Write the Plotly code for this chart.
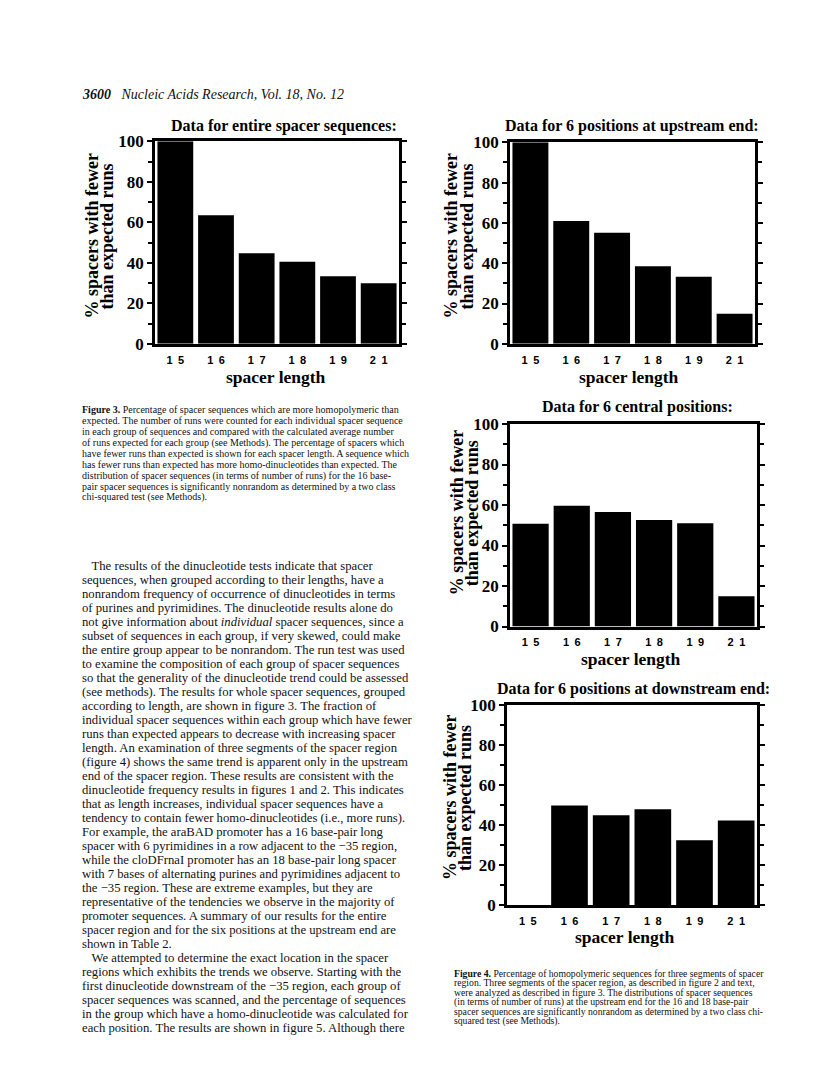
import plotly.graph_objects as go

W, H = 816, 1080
SERIF = "Liberation Serif, Times New Roman, serif"
SANS = "Liberation Sans, Arial, sans-serif"

# data
LENGTHS = ["15", "16", "17", "18", "19", "21"]
LENGTH_LABELS = ["1\u20025", "1\u20026", "1\u20027", "1\u20028", "1\u20029", "2\u20021"]
ENTIRE = [100, 63.5, 44.7, 40.5, 33.4, 29.9]
UPSTREAM = [100, 61.0, 55.1, 38.5, 33.3, 14.9]
CENTRAL = [50.7, 59.6, 56.6, 52.6, 51.0, 15.0]
DOWNSTREAM = [0, 49.7, 44.9, 47.9, 32.4, 42.2]

TITLES = [
    "Data for entire spacer sequences:",
    "Data for 6 positions at upstream end:",
    "Data for 6 central positions:",
    "Data for 6 positions at downstream end:",
]
Y_TITLE_LINES = ["% spacers with fewer", "than expected runs"]
X_TITLE = "spacer length"

HEADER = "<b><i>3600</i></b>\u00a0\u00a0\u00a0<i>Nucleic Acids Research, Vol. 18, No. 12</i>"

FIG3_CAPTION = [
    "<b>Figure 3.</b> Percentage of spacer sequences which are more homopolymeric than",
    "expected. The number of runs were counted for each individual spacer sequence",
    "in each group of sequences and compared with the calculated average number",
    "of runs expected for each group (see Methods). The percentage of spacers which",
    "have fewer runs than expected is shown for each spacer length. A sequence which",
    "has fewer runs than expected has more homo-dinucleotides than expected. The",
    "distribution of spacer sequences (in terms of number of runs) for the 16 base-",
    "pair spacer sequences is significantly nonrandom as determined by a two class",
    "chi-squared test (see Methods).",
]

BODY = [
    "\u00a0\u00a0\u00a0The results of the dinucleotide tests indicate that spacer",
    "sequences, when grouped according to their lengths, have a",
    "nonrandom frequency of occurrence of dinucleotides in terms",
    "of purines and pyrimidines. The dinucleotide results alone do",
    "not give information about <i>individual</i> spacer sequences, since a",
    "subset of sequences in each group, if very skewed, could make",
    "the entire group appear to be nonrandom. The run test was used",
    "to examine the composition of each group of spacer sequences",
    "so that the generality of the dinucleotide trend could be assessed",
    "(see methods). The results for whole spacer sequences, grouped",
    "according to length, are shown in figure 3. The fraction of",
    "individual spacer sequences within each group which have fewer",
    "runs than expected appears to decrease with increasing spacer",
    "length. An examination of three segments of the spacer region",
    "(figure 4) shows the same trend is apparent only in the upstream",
    "end of the spacer region. These results are consistent with the",
    "dinucleotide frequency results in figures 1 and 2. This indicates",
    "that as length increases, individual spacer sequences have a",
    "tendency to contain fewer homo-dinucleotides (i.e., more runs).",
    "For example, the araBAD promoter has a 16 base-pair long",
    "spacer with 6 pyrimidines in a row adjacent to the \u221235 region,",
    "while the cloDFrnaI promoter has an 18 base-pair long spacer",
    "with 7 bases of alternating purines and pyrimidines adjacent to",
    "the \u221235 region. These are extreme examples, but they are",
    "representative of the tendencies we observe in the majority of",
    "promoter sequences. A summary of our results for the entire",
    "spacer region and for the six positions at the upstream end are",
    "shown in Table 2.",
    "\u00a0\u00a0\u00a0We attempted to determine the exact location in the spacer",
    "regions which exhibits the trends we observe. Starting with the",
    "first dinucleotide downstream of the \u221235 region, each group of",
    "spacer sequences was scanned, and the percentage of sequences",
    "in the group which have a homo-dinucleotide was calculated for",
    "each position. The results are shown in figure 5. Although there",
]

FIG4_CAPTION = [
    "<b>Figure 4.</b> Percentage of homopolymeric sequences for three segments of spacer",
    "region. Three segments of the spacer region, as described in figure 2 and text,",
    "were analyzed as described in figure 3. The distributions of spacer sequences",
    "(in terms of number of runs) at the upstream end for the 16 and 18 base-pair",
    "spacer sequences are significantly nonrandom as determined by a two class chi-",
    "squared test (see Methods).",
]

# the photographed page comes out slightly squeezed vertically; undo it
Y_SHIFT, Y_SCALE = 10.0, 0.98


def fx(x):
    return x / W


def fy(y):
    return 1 - ((y - Y_SHIFT) / Y_SCALE) / H


# plot boxes in page pixels: (left, top, right, bottom), plus label anchors
PANELS = [
    dict(box=(155, 142, 399, 344), title=(284, 127), ytitle=(92, 107, 237), xtitle=(276, 377), values=ENTIRE),
    dict(box=(510, 143, 755, 344), title=(632, 127), ytitle=(451, 467, 237), xtitle=(629, 377), values=UPSTREAM),
    dict(box=(510, 424, 757, 626), title=(637, 407), ytitle=(457, 472, 513), xtitle=(631, 658), values=CENTRAL),
    dict(box=(507, 704, 757, 904), title=(633, 688), ytitle=(450, 465, 797), xtitle=(625, 936), values=DOWNSTREAM),
]

fig = go.Figure()
annotations = []


def label(text, x, y, size, angle=0):
    annotations.append(dict(
        text=text, x=fx(x), y=fy(y), xref="paper", yref="paper",
        xanchor="center", yanchor="middle", showarrow=False, textangle=angle,
        font=dict(family=SERIF, size=size, color="#000", weight="bold"),
    ))


for i, (panel, title) in enumerate(zip(PANELS, TITLES), start=1):
    l, t, r, b = panel["box"]
    sfx = "" if i == 1 else str(i)
    fig.add_trace(go.Bar(
        x=LENGTHS, y=panel["values"], xaxis="x" + sfx, yaxis="y" + sfx,
        marker=dict(color="#000000", line=dict(width=0)), showlegend=False,
    ))
    fig.update_layout(**{
        "xaxis" + sfx: dict(
            domain=[fx(l), fx(r)], anchor="y" + sfx, type="category",
            tickvals=LENGTHS, ticktext=LENGTH_LABELS, ticks="",
            tickfont=dict(family=SANS, size=11, color="#000", weight="bold"),
            ticklabelstandoff=4,
            showline=True, linecolor="#000", linewidth=2.5, mirror=True,
            showgrid=False, zeroline=False, fixedrange=True,
        ),
        "yaxis" + sfx: dict(
            domain=[fy(b), fy(t)], anchor="x" + sfx, range=[0, 100],
            tickvals=[0, 20, 40, 60, 80, 100], ticks="outside", ticklen=5,
            tickwidth=2, tickcolor="#000",
            minor=dict(dtick=10, ticks="outside", ticklen=4, tickwidth=1.5, tickcolor="#000"),
            tickfont=dict(family=SERIF, size=17, color="#000", weight="bold"),
            showline=True, linecolor="#000", linewidth=2.5, mirror="allticks",
            showgrid=False, zeroline=False, fixedrange=True,
        ),
    })
    tx, ty = panel["title"]
    label(title, tx, ty, 16)
    y1x, y2x, yy = panel["ytitle"]
    label(Y_TITLE_LINES[0], y1x, yy, 18, angle=-90)
    label(Y_TITLE_LINES[1], y2x, yy, 18, angle=-90)
    xx, xy = panel["xtitle"]
    label(X_TITLE, xx, xy, 17.5)


def text_block(lines, x0, y0, step, size):
    for k, line in enumerate(lines):
        annotations.append(dict(
            text=line, x=fx(x0), y=fy(y0 + k * step), xref="paper", yref="paper",
            xanchor="left", yanchor="middle", showarrow=False, align="left",
            font=dict(family=SERIF, size=size, color="#111"),
        ))


annotations.append(dict(
    text=HEADER, x=fx(80), y=fy(95), xref="paper", yref="paper",
    xanchor="left", yanchor="middle", showarrow=False,
    font=dict(family=SERIF, size=14, color="#111"),
))
text_block(FIG3_CAPTION, 80, 410, 10.9, 10)
text_block(BODY, 80, 566, 13.95, 12.7)
text_block(FIG4_CAPTION, 452, 972, 9.5, 9.7)

fig.update_layout(
    width=W, height=H, margin=dict(l=0, r=0, t=0, b=0),
    paper_bgcolor="#FFFFFF", plot_bgcolor="#FFFFFF",
    bargap=0.12, showlegend=False, annotations=annotations,
)

# page body margin off so the figure sits at the window's top-left corner
fig.write_html(
    "out.html",
    config={"displayModeBar": False},
    post_script="document.body.style.margin='0';document.body.style.overflow='hidden';",
)
